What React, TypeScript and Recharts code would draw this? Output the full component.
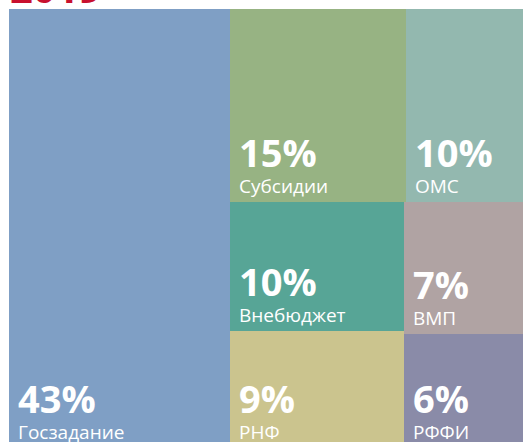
import React from 'react';
import { Treemap } from 'recharts';

const names = ['Госзадание', 'Субсидии', 'ОМС', 'Внебюджет', 'РНФ', 'ВМП', 'РФФИ'];
const shares = [43, 15, 10, 10, 9, 7, 6];
const colors = ['#7F9FC5', '#97B383', '#93B8AF', '#57A596', '#CBC48E', '#B0A3A3', '#8A8BA8'];
const title = '2019';

const leaf = (i: number) => ({ name: names[i], size: shares[i], color: colors[i], pct: `${shares[i]}%` });

const data = [
  leaf(0),
  {
    name: 'rest',
    children: [
      { name: 'top', children: [leaf(1), leaf(2)] },
      {
        name: 'bottom',
        children: [
          { name: 'mid', children: [leaf(3), leaf(4)] },
          { name: 'right', children: [leaf(5), leaf(6)] },
        ],
      },
    ],
  },
];

const FONT = '"Open Sans", "Noto Sans", sans-serif';

const renderCell = (props: any) => {
  const { x, y, width, height, pct, name, color } = props;
  if (!pct) return <g />;
  return (
    <g>
      <rect x={x} y={y} width={width} height={height} fill={color} stroke="none" />
      <text x={x + 9} y={y + height - 35} fill="#fff" fontSize={38} fontWeight={700} fontFamily={FONT}>
        {pct}
      </text>
      <text x={x + 9} y={y + height - 9} fill="#fff" fontSize={19} fontWeight={400} fontFamily={FONT}>
        {name}
      </text>
    </g>
  );
};

export default function App() {
  return (
    <div style={{ position: 'absolute', left: 0, top: 0, width: 523, height: 442, overflow: 'hidden', background: '#fff' }}>
      <svg width={523} height={20} style={{ position: 'absolute', left: 0, top: 0 }}>
        <text x={10} y={3} fill="#C8102E" fontSize={40} fontWeight={700} fontFamily={FONT}>
          {title}
        </text>
      </svg>
      <div style={{ position: 'absolute', left: 9, top: 9 }}>
        <Treemap
          width={514}
          height={439}
          data={data}
          dataKey="size"
          aspectRatio={1}
          isAnimationActive={false}
          content={renderCell}
        />
      </div>
    </div>
  );
}
